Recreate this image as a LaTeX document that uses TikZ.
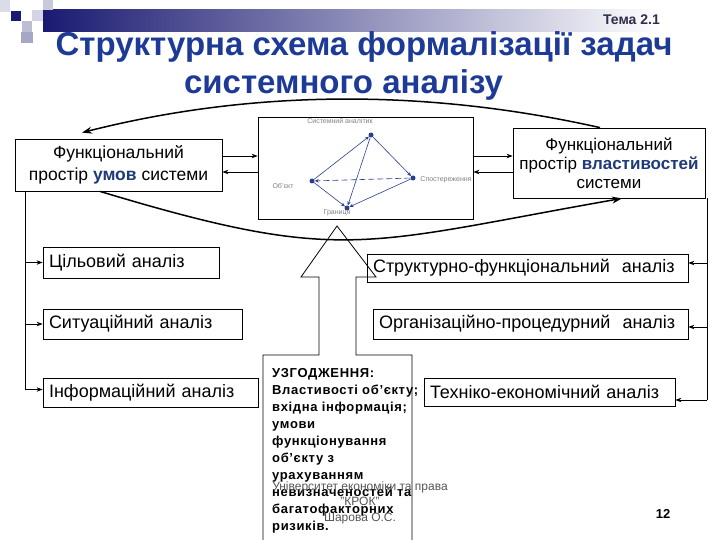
\documentclass[tikz,border=0pt]{standalone}
\usepackage{fontspec}
\setmainfont{Liberation Sans}
\newfontfamily\spacedfont[LetterSpace=5]{Liberation Sans}
\usetikzlibrary{arrows.meta,calc}
\definecolor{titleblue}{HTML}{1C3A96}
\definecolor{emphblue}{HTML}{1F3A7A}
\definecolor{diagblue}{HTML}{2B3E8F}
\definecolor{barnavy}{HTML}{1A1A72}
\definecolor{temagray}{HTML}{2D2D4D}
\definecolor{footgray}{HTML}{555555}
\definecolor{sqA}{HTML}{DCDCE8}
\definecolor{sqB}{HTML}{C9C9DC}
\definecolor{sqC}{HTML}{D4D4E4}
\definecolor{sqD}{HTML}{BDBDD4}
\definecolor{sqE}{HTML}{A6A6C6}
\begin{document}
\begin{tikzpicture}[x=1pt,y=-1pt,
  box/.style={draw=black, line width=0.8pt, rectangle, inner ysep=0pt},
  abox/.style={box, inner xsep=6pt, align=left, font=\fontsize{18}{20}\selectfont},
  fbox/.style={box, align=center, font=\fontsize{17.5}{22}\selectfont},
  conn/.style={line width=0.8pt, -{Stealth[length=6pt,width=4.5pt]}},
  curv/.style={line width=1.5pt, -{Stealth[length=10pt,width=7pt]}},
  dline/.style={draw=diagblue, line width=0.6pt, -{Stealth[length=4pt,width=3.5pt]}},
  vdot/.style={circle, fill=diagblue, inner sep=0pt, minimum size=5pt},
  dlabel/.style={text=gray, font=\fontsize{7}{8}\selectfont, inner sep=0pt},
  foot/.style={text=footgray, font=\fontsize{12}{14}\selectfont, inner sep=0pt, anchor=base},
]
\useasboundingbox (0,0) rectangle (720,540);

% header decoration
\shade[left color=barnavy, right color=white] (43,10) rectangle (660,32);
\fill[sqA] (0,0) rectangle (10,12);
\fill[sqB] (43,0) rectangle (53,10);
\fill[sqC] (32,10) rectangle (43,21);
\fill[sqD] (22,21) rectangle (32,32);
\fill[sqE] (21,32) rectangle (33,43);
\fill[barnavy] (11,11) rectangle (21,21);

\node[anchor=base east, text=temagray, font=\bfseries\fontsize{14}{16}\selectfont, inner sep=0pt] (tema) at (660,25) {Тема 2.1};
\node[anchor=base, text=titleblue, font=\bfseries\fontsize{33}{38}\selectfont, inner sep=0pt] (title1) at (364,56) {Структурна схема формалізації задач};
\node[anchor=base, text=titleblue, font=\bfseries\fontsize{33}{38}\selectfont, inner sep=0pt] (title2) at (343.5,94) {системного аналізу};

% top row
\node[fbox, minimum width=207pt, minimum height=52pt] (condL) at (118.5,165) {Функціональний\\простір {\bfseries\color{emphblue}умов} системи};
\node[box, minimum width=215pt, minimum height=102pt] (diag) at (365.5,168) {};
\node[fbox, minimum width=192pt, minimum height=70pt, font=\fontsize{17}{19}\selectfont] (propR) at (609,163) {Функціональний\\простір {\bfseries\color{emphblue}властивостей}\\системи};

% small diagram
\node[vdot] (vT) at (371,135) {};
\node[vdot] (vL) at (312,181) {};
\node[vdot] (vR) at (413,178) {};
\node[vdot] (vB) at (347,208) {};
\draw[dline] (vL) -- (vT);
\draw[dline] (vT) -- (vR);
\draw[dline] (vT) -- (vB);
\draw[dline] (vL) -- (vB);
\draw[dline] (vR) -- (vB);
\draw[dline, dash pattern=on 6pt off 3pt] (vR) -- (vL);
\node[dlabel] (lT) at (340,121) {Системний аналітик};
\node[dlabel] (lL) at (283,186) {Об'єкт};
\node[dlabel] (lR) at (446,180) {Спостереження};
\node[dlabel] (lB) at (337,213) {Границя};

% arrows between top boxes
\draw[conn] ([yshift=9pt]condL.east) -- ([yshift=9pt]condL.east -| diag.west);
\draw[conn] ([yshift=-7pt]condL.east -| diag.west) -- ([yshift=-7pt]condL.east);
\draw[conn] ([yshift=7pt]propR.west -| diag.east) -- ([yshift=7pt]propR.west);
\draw[conn] ([yshift=-9pt]propR.west) -- ([yshift=-9pt]propR.west -| diag.east);

% curves
\coordinate (topEnd) at ($(condL.north)+(-36.5,-6)$);
\draw[curv] ([xshift=-9pt]propR.north) .. controls (423,88) and (250,90) .. (topEnd);
\draw[curv] ([xshift=-18.5pt]condL.south) .. controls (344,265) and (362,244) .. ([xshift=13pt]propR.south);

% left column
\node[abox, text width=164pt, minimum height=31pt] (goal) at (131,262.5) {\mbox{Цільовий аналіз}};
\node[abox, text width=187pt, minimum height=30pt] (sit) at (142.5,324) {\mbox{Ситуаційний аналіз}};
\node[abox, text width=203pt, minimum height=29pt] (info) at (150.5,392.5) {\mbox{Інформаційний аналіз}};

% right column
\node[abox, text width=309pt, minimum height=28pt] (struct) at (527.5,268) {\mbox{Структурно-функціональний\ \ аналіз}};
\node[abox, text width=303pt, minimum height=30pt] (org) at (530.5,324) {\mbox{Організаційно-процедурний\ \ аналіз}};
\node[abox, text width=239pt, minimum height=28pt] (tech) at (549.5,392) {\mbox{Техніко-економічний аналіз}};

% left vertical connector
\coordinate (lx) at (25,0);
\draw[line width=0.8pt] (lx |- condL.south) -- ([yshift=3pt]lx |- info.west);
\draw[conn] (lx |- goal.west) -- (goal.west);
\draw[conn] (lx |- sit.west) -- (sit.west);
\draw[conn] ([yshift=3pt]lx |- info.west) -- ([yshift=3pt]info.west);

% right vertical connector
\coordinate (rx) at (707,0);
\draw[line width=0.8pt] (rx |- propR.south) -- ([yshift=-8pt]rx |- tech.east);
\draw[conn] ([yshift=5pt]rx |- struct.east) -- ([yshift=5pt]struct.east);
\draw[conn] ([yshift=-3pt]rx |- org.east) -- ([yshift=-3pt]org.east);
\draw[conn] ([yshift=-8pt]rx |- tech.east) -- ([yshift=-8pt]tech.east);

% agreement callout with up arrow
\draw[line width=0.8pt] (263,545) -- (263,355) -- (319,355) -- (319,277) -- (301,277) -- (337,226) -- (376,277) -- (356,277) -- (356,355) -- (412,355) -- (412,545);
\node[anchor=north west, align=left, inner sep=0pt, font=\spacedfont\bfseries\fontsize{13}{17}\selectfont] (agree) at (272,368) {УЗГОДЖЕННЯ:\\Властивості об’єкту;\\вхідна інформація;\\умови\\функціонування\\об’єкту з\\урахуванням\\невизначеностей та\\багатофакторних\\ризиків.};

% footer
\node[foot] (f1) at (360,490) {Університет економіки та права};
\node[foot] (f2) at (360,505) {"КРОК"};
\node[foot] (f3) at (360,521) {Шарова О.С.};
\node[anchor=base, font=\bfseries\fontsize{13}{15}\selectfont, inner sep=0pt] (pg) at (663,518) {12};
\end{tikzpicture}
\end{document}
